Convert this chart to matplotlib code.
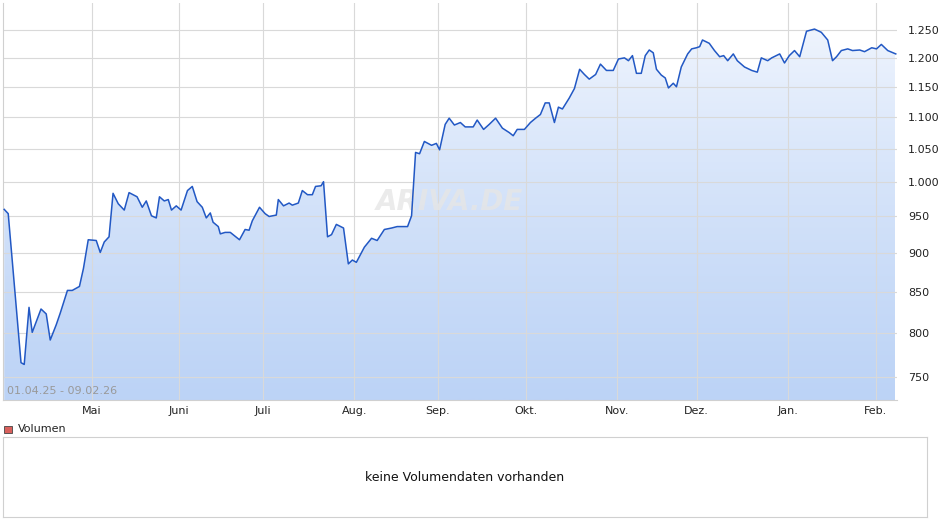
import matplotlib

matplotlib.use("Agg")
import matplotlib.pyplot as plt
import numpy as np
import pandas as pd
from matplotlib.patches import Rectangle
from matplotlib.ticker import FixedLocator

# (trading-day index from 01.04.25, closing price)
points = [
    (0, 960), (1, 954), (4.2, 766), (5, 764), (6.2, 831), (7, 801), (9.2, 829), (10.5, 823),
    (11.5, 792), (13, 810), (14, 824), (15.8, 852), (17, 852), (18.8, 857), (19.8, 880),
    (21, 918), (23, 917), (24, 901), (25, 915), (26.2, 922), (27.2, 983), (28.5, 968),
    (30, 959), (31.2, 984), (33.2, 978), (34.5, 963), (35.5, 972), (36.8, 951), (38, 948),
    (38.8, 978), (40, 972), (41, 974), (41.8, 959), (43, 965), (44.2, 959), (45.8, 987),
    (47, 993), (48.2, 971), (49.5, 963), (50.5, 948), (51.5, 955), (52.2, 942), (53.5, 936),
    (54, 926), (55.2, 928), (56.5, 928), (58.8, 918), (60.2, 932), (61.2, 931), (62, 944),
    (63.8, 963), (65.2, 954), (66.2, 950), (68, 952), (68.5, 974), (69.8, 965), (71.2, 969),
    (72, 966), (73.5, 969), (74.5, 987), (75.8, 981), (77, 981), (77.8, 993), (79.2, 994),
    (79.8, 1000), (80.8, 922), (81.8, 925), (83, 939), (84.8, 934), (86, 886), (87, 891),
    (88, 888), (90, 908), (91.8, 920), (93.2, 917), (95, 932), (96.8, 934), (98.2, 936),
    (100.8, 936), (101.8, 951), (102.8, 1044), (103.8, 1042), (105, 1061), (106.8, 1055),
    (108, 1058), (108.8, 1048), (110.2, 1088), (111.2, 1098), (112.5, 1087), (114, 1091),
    (115.2, 1084), (117.2, 1084), (118.2, 1095), (119.8, 1080), (121.2, 1088), (122.8, 1098),
    (124.5, 1082), (126.2, 1075), (127.2, 1070), (128.2, 1080), (130, 1080), (131.5, 1091),
    (132.8, 1098), (134, 1104), (135.2, 1123), (136.2, 1123), (137.5, 1091), (138.5, 1116),
    (139.5, 1113), (141.2, 1131), (142.5, 1147), (143.8, 1180), (145, 1171), (146.2, 1163),
    (147.8, 1171), (149, 1189), (150.5, 1178), (152.2, 1178), (153.5, 1198), (155, 1200),
    (156, 1195), (157, 1204), (158, 1173), (159.2, 1173), (160.2, 1204), (161.2, 1214),
    (162.2, 1209), (163, 1180), (164.2, 1170), (165.2, 1165), (166, 1148), (167.2, 1156),
    (168, 1150), (169.2, 1184), (170.8, 1207), (171.8, 1216), (173, 1218), (173.8, 1220),
    (174.5, 1232), (176.2, 1226), (177.5, 1213), (178.8, 1202), (179.8, 1204), (180.8, 1195),
    (182.2, 1207), (183.2, 1195), (185, 1184), (186.8, 1178), (188.2, 1175), (189.2, 1200),
    (190.8, 1195), (191.8, 1200), (193.8, 1207), (195, 1191), (196.2, 1204), (197.5, 1213),
    (198.8, 1202), (200.5, 1248), (202.5, 1252), (204.2, 1246), (205.8, 1232), (207, 1195),
    (208, 1202), (209.2, 1213), (210.8, 1216), (212, 1213), (213.8, 1214), (215, 1211),
    (216.8, 1218), (218, 1216), (219.2, 1224), (220.8, 1213), (222.8, 1207),
]
day = [p[0] for p in points]
price = [p[1] for p in points]
months = ["Mai", "Juni", "Juli", "Aug.", "Sep.", "Okt.", "Nov.", "Dez.", "Jan.", "Feb."]
yticks = [750, 800, 850, 900, 950, 1000, 1050, 1100, 1150, 1200, 1250]

bdays = pd.bdate_range("2025-04-01", "2026-02-09")
scale = day[-1] / (len(bdays) - 1)
firsts = pd.Series(range(len(bdays)), index=bdays).groupby([bdays.year, bdays.month]).first()
month_pos = [v * scale for v in firsts.values[1:]]

fig = plt.figure(figsize=(9.4, 5.26), dpi=100)
ax = fig.add_axes([0.0032, 0.2395, 0.951, 0.7548])
ax.set_yscale("log")
ymin, ymax = 725, 1301
ax.set_ylim(ymin, ymax)
ax.set_xlim(day[0] - 0.3, day[-1] + 0.3)

grad = np.linspace(0, 1, 256).reshape(-1, 1)
cmap = matplotlib.colors.LinearSegmentedColormap.from_list("g", ["#bcd3f6", "#f3f7fe"])
img = ax.imshow(grad, cmap=cmap, aspect="auto", origin="lower",
                extent=[day[0], day[-1], ymin, ymax], zorder=1)
poly = ax.fill_between(day, price, ymin, color="none", lw=0)
img.set_clip_path(poly.get_paths()[0], transform=ax.transData)
ax.plot(day, price, color="#2258c4", lw=1.1, zorder=3)

ax.yaxis.set_major_locator(FixedLocator(yticks))
ax.yaxis.set_minor_locator(FixedLocator([]))
ax.set_yticklabels([f"{v:,}".replace(",", ".") for v in yticks])
ax.yaxis.tick_right()
ax.set_xticks(month_pos)
ax.set_xticklabels(months)
ax.tick_params(length=0, labelsize=8, colors="#222222", pad=4)
ax.tick_params(axis="y", pad=8)
ax.grid(True, color="#d9d9d9", lw=0.8, zorder=2)
for s in ax.spines.values():
    s.set_color("#d0d0d0")
ax.spines["top"].set_visible(False)
ax.spines["right"].set_visible(False)

ax.text(0.005, 0.01, "01.04.25 - 09.02.26", transform=ax.transAxes, fontsize=8,
        color="#999999", va="bottom", zorder=4)
ax.text(0.5, 0.5, "ARIVA.DE", transform=ax.transAxes, fontsize=20, fontweight="bold",
        fontstyle="italic", color="#e6e6e6", ha="center", va="center", alpha=0.8, zorder=2.5)

fig.patches.append(Rectangle((0.0043, 0.176), 0.0085, 0.015, transform=fig.transFigure,
                             facecolor="#d9605c", edgecolor="#444444", lw=0.6))
fig.text(0.019, 0.1835, "Volumen", fontsize=8, va="center", color="#222222")

vax = fig.add_axes([0.0032, 0.0171, 0.983, 0.152])
vax.set_xticks([])
vax.set_yticks([])
for s in vax.spines.values():
    s.set_color("#d0d0d0")
vax.text(0.5, 0.5, "keine Volumendaten vorhanden", transform=vax.transAxes,
         ha="center", va="center", fontsize=9, color="#111111")

fig.savefig("out.png", dpi=100)
